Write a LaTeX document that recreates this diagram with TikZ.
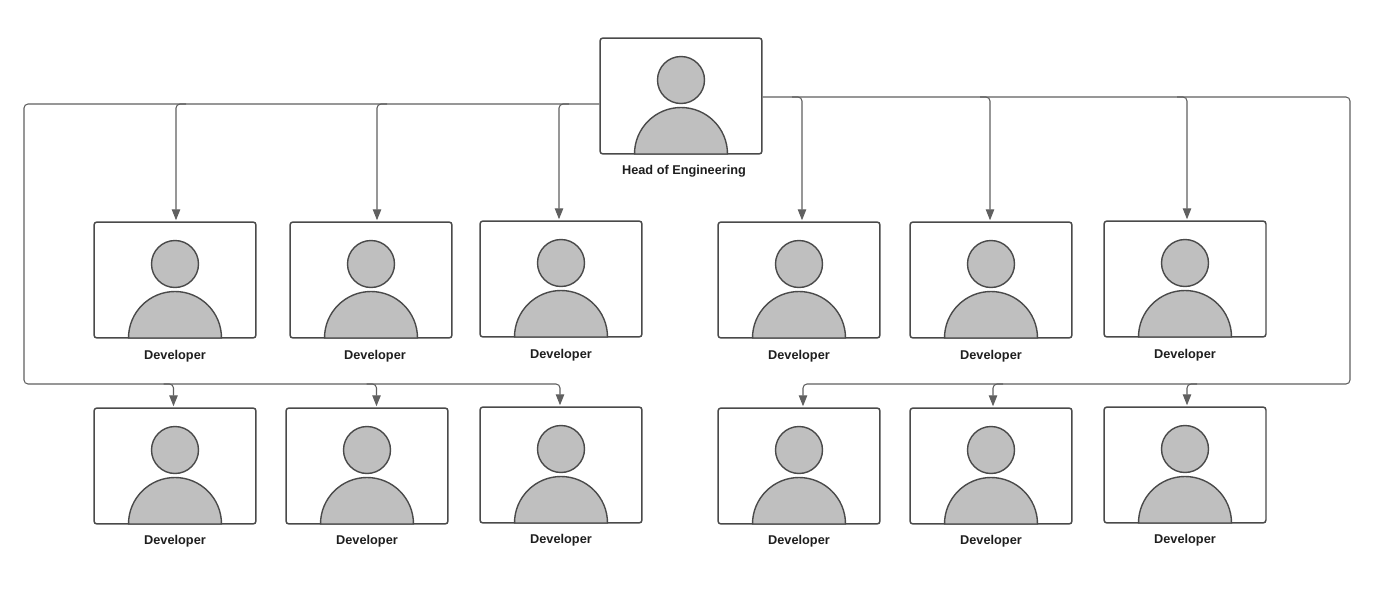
\documentclass[tikz,border=0pt]{standalone}
\usepackage{fontspec}
\setmainfont{Liberation Sans}
\usetikzlibrary{
    arrows.meta,
    calc
}
\definecolor{cardline}{RGB}{74,74,74}
\definecolor{wireline}{RGB}{96,96,96}
\definecolor{personfill}{RGB}{191,191,191}
\definecolor{captiontext}{RGB}{30,30,30}

\begin{document}
\begin{tikzpicture}[
        x=0.02cm, y=0.02cm,
        cardbox/.style={draw=cardline, line width=0.85pt, rounded corners=0.06cm, minimum width=3.24cm, minimum height=2.32cm, inner sep=0pt},
        person/.style={draw=cardline, line width=0.8pt, fill=personfill},
        caption/.style={font=\fontsize{7.25}{9}\selectfont\bfseries, text=captiontext, text height=2.7mm, text depth=0.5mm, inner sep=0pt},
        arrow/.style={-{Triangle[length=0.22cm, width=0.17cm]}, draw=wireline, line width=0.6pt, rounded corners=0.08cm},
        card/.pic={
            \node[cardbox] (-box) at (0,0) {};
            \draw[person] (-46.5,-58) arc[start angle=180, end angle=0, radius=46.5] -- cycle;
            \node[person, circle, minimum size=0.94cm, inner sep=0pt] (-face) at (0,16) {};
        }
    ]
        \useasboundingbox (0,0) rectangle (1400,-592);

        \pic (ceo) at (681,-96) {card};
        \node[caption] (ceolabel) at (684,-169) {Head of Engineering};

        % upper row
        \pic (dev1) at (175,-280) {card};
        \pic (dev2) at (371,-280) {card};
        \pic (dev3) at (561,-279) {card};
        \pic (dev4) at (799,-280) {card};
        \pic (dev5) at (991,-280) {card};
        \pic (dev6) at (1185,-279) {card};
        \node[caption] (dev1label) at (175,-354) {Developer};
        \node[caption] (dev2label) at (375,-354) {Developer};
        \node[caption] (dev3label) at (561,-353) {Developer};
        \node[caption] (dev4label) at (799,-354) {Developer};
        \node[caption] (dev5label) at (991,-354) {Developer};
        \node[caption] (dev6label) at (1185,-353) {Developer};

        % lower row
        \pic (dev7) at (175,-466) {card};
        \pic (dev8) at (367,-466) {card};
        \pic (dev9) at (561,-465) {card};
        \pic (dev10) at (799,-466) {card};
        \pic (dev11) at (991,-466) {card};
        \pic (dev12) at (1185,-465) {card};
        \node[caption] (dev7label) at (175,-539) {Developer};
        \node[caption] (dev8label) at (367,-539) {Developer};
        \node[caption] (dev9label) at (561,-538) {Developer};
        \node[caption] (dev10label) at (799,-539) {Developer};
        \node[caption] (dev11label) at (991,-539) {Developer};
        \node[caption] (dev12label) at (1185,-538) {Developer};

        % bus corners
        \coordinate (leftout) at ($(ceo-box.west)+(0,-8)$);
        \coordinate (lefttop) at (24,-104);
        \coordinate (leftbot) at (24,-384);
        \coordinate (rightout) at ($(ceo-box.east)+(0,-1)$);
        \coordinate (righttop) at (1350,-97);
        \coordinate (rightbot) at (1350,-384);

        % the two long runs
        \draw[arrow] (leftout) -- (lefttop) -- (leftbot) -| ($(dev9-box.north)+(-1,1)$);
        \draw[arrow] (rightout) -- (righttop) -- (rightbot) -| ($(dev10-box.north)+(4,1)$);

        % branches off the runs
        \draw[arrow] ($(leftout -| dev1-box.north)+(11,0)$) -| ($(dev1-box.north)+(1,1)$);
        \draw[arrow] ($(leftout -| dev2-box.north)+(16,0)$) -| ($(dev2-box.north)+(6,1)$);
        \draw[arrow] ($(leftout -| dev3-box.north)+(8,0)$) -| ($(dev3-box.north)+(-2,1)$);
        \draw[arrow] ($(rightout -| dev4-box.north)+(-7,0)$) -| ($(dev4-box.north)+(3,1)$);
        \draw[arrow] ($(rightout -| dev5-box.north)+(-11,0)$) -| ($(dev5-box.north)+(-1,1)$);
        \draw[arrow] ($(rightout -| dev6-box.north)+(-8,0)$) -| ($(dev6-box.north)+(2,1)$);
        \draw[arrow] ($(leftbot -| dev7-box.north)+(-11.5,0)$) -| ($(dev7-box.north)+(-1.5,1)$);
        \draw[arrow] ($(leftbot -| dev8-box.north)+(-0.5,0)$) -| ($(dev8-box.north)+(9.5,1)$);
        \draw[arrow] ($(rightbot -| dev11-box.north)+(12,0)$) -| ($(dev11-box.north)+(2,1)$);
        \draw[arrow] ($(rightbot -| dev12-box.north)+(12,0)$) -| ($(dev12-box.north)+(2,1)$);
    \end{tikzpicture}
\end{document}
